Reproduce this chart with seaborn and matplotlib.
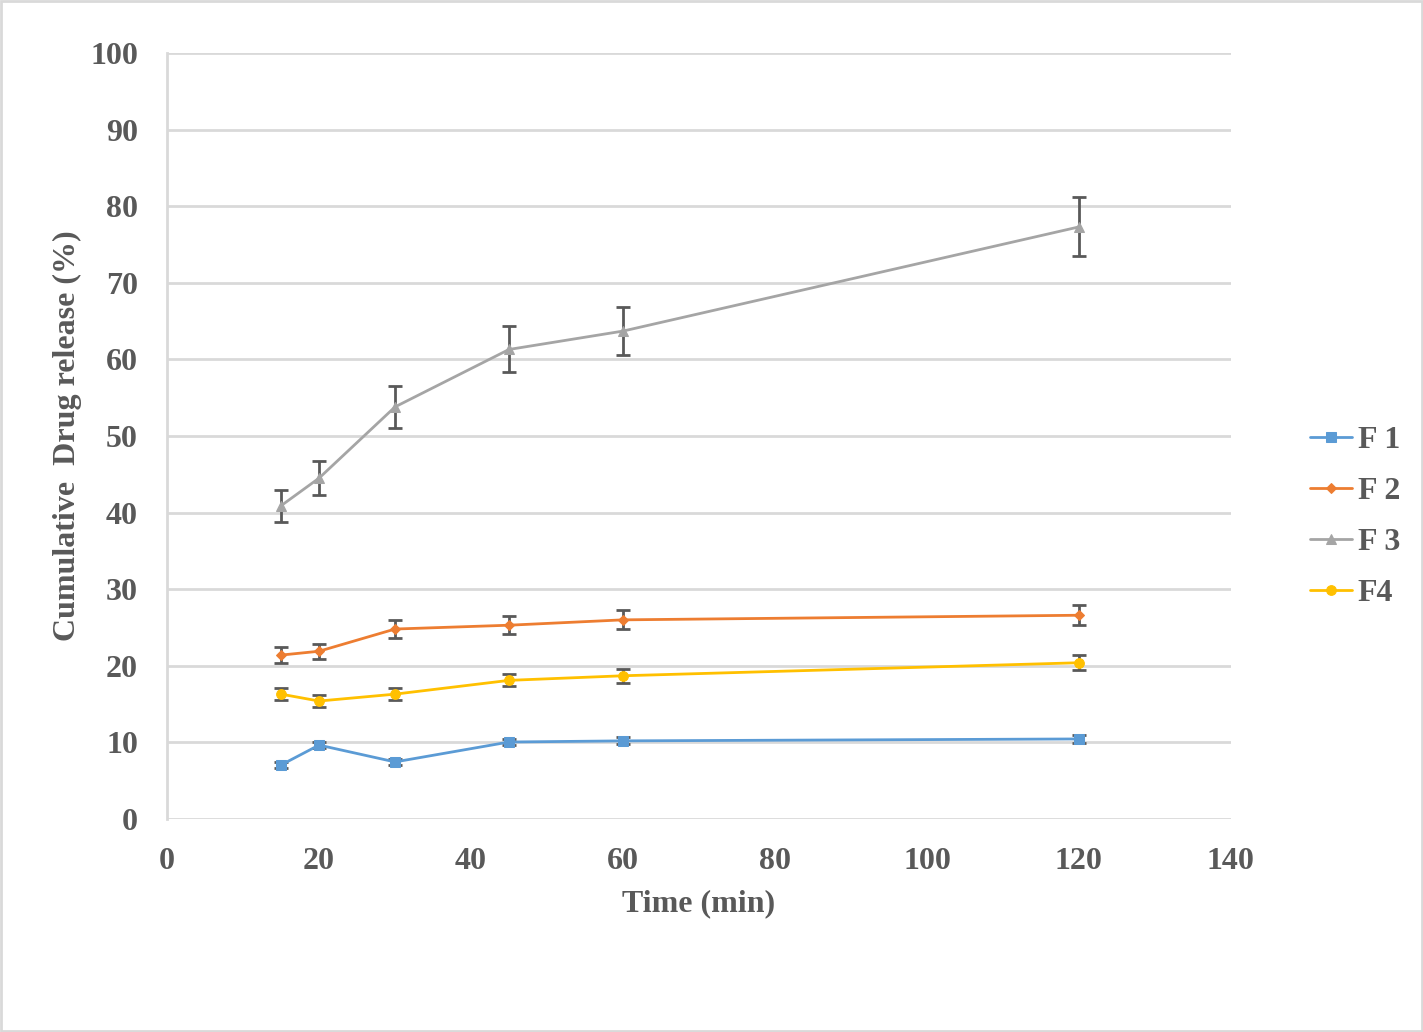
import matplotlib
matplotlib.use('Agg')
import matplotlib.pyplot as plt
import seaborn as sns
import pandas as pd
import numpy as np

# sampling times (min)
time_min = [15, 20, 30, 45, 60, 120]

# cumulative release (%) per formulation
f1 = [7.05, 9.65, 7.45, 10.05, 10.2, 10.45]
f2 = [21.4, 21.9, 24.8, 25.3, 26.0, 26.6]
f3 = [40.9, 44.5, 53.8, 61.3, 63.7, 77.3]
f4 = [16.3, 15.4, 16.3, 18.1, 18.7, 20.4]

# standard deviations
f1_sd = [0.4, 0.4, 0.35, 0.45, 0.45, 0.5]
f2_sd = [1.0, 1.0, 1.2, 1.2, 1.25, 1.3]
f3_sd = [2.1, 2.2, 2.7, 3.0, 3.1, 3.85]
f4_sd = [0.8, 0.8, 0.8, 0.8, 0.9, 1.0]

series_names = ['F 1', 'F 2', 'F 3', 'F4']
colors = ['#5B9BD5', '#ED7D31', '#A5A5A5', '#FFC000']
markers = ['s', 'D', '^', 'o']
marker_sizes = [7, 5, 7, 7]

values = [f1, f2, f3, f4]
errors = [f1_sd, f2_sd, f3_sd, f4_sd]

rows = []
for name, vals, sds in zip(series_names, values, errors):
    for t, v, s in zip(time_min, vals, sds):
        rows.append({'Time': t, 'Release': v, 'SD': s, 'Formulation': name})
df = pd.DataFrame(rows)

sns.set_theme(style='white')
plt.rcParams['font.family'] = ['Liberation Serif', 'DejaVu Serif']
plt.rcParams['font.weight'] = 'bold'
text_col = '#595959'

fig = plt.figure(figsize=(14.23, 10.32), dpi=100)
ax = fig.add_axes([0.1174, 0.2064, 0.7476, 0.7422])

# error bars first so the lines sit on top
for name in series_names:
    sub = df[df['Formulation'] == name]
    ax.errorbar(sub['Time'], sub['Release'], yerr=sub['SD'], fmt='none',
                ecolor='#595959', elinewidth=2, capsize=5, capthick=2, zorder=2)

for name, c, m, ms in zip(series_names, colors, markers, marker_sizes):
    sub = df[df['Formulation'] == name]
    sns.lineplot(data=sub, x='Time', y='Release', ax=ax, color=c, marker=m,
                 markersize=ms, markeredgecolor=c, linewidth=2, label=name,
                 zorder=3)

ax.set_xlim(0, 140)
ax.set_ylim(0, 100)
ax.set_xticks(np.arange(0, 141, 20))
ax.set_yticks(np.arange(0, 101, 10))
ax.yaxis.grid(True, color='#D9D9D9', linewidth=2)
ax.xaxis.grid(False)
ax.set_axisbelow(True)

for side in ['top', 'right', 'bottom']:
    ax.spines[side].set_visible(False)
ax.spines['left'].set_color('#D9D9D9')
ax.spines['left'].set_linewidth(2)

ax.tick_params(axis='y', length=0, labelsize=23, labelcolor=text_col, pad=21)
ax.tick_params(axis='x', length=0, labelsize=23, labelcolor=text_col, pad=20)
for lab in ax.get_xticklabels() + ax.get_yticklabels():
    lab.set_fontweight('bold')

ax.set_xlabel('Time (min)', fontsize=23, fontweight='bold', color=text_col, labelpad=10)
ax.set_ylabel('Cumulative  Drug release (%)', fontsize=23, fontweight='bold',
              color=text_col, labelpad=6)

leg = fig.legend(*ax.get_legend_handles_labels(), loc='center left',
                 bbox_to_anchor=(1310 / 1423, 1 - 517 / 1032), frameon=False,
                 borderpad=0, borderaxespad=0, handlelength=1.3,
                 handletextpad=0.2, labelspacing=0.68,
                 prop={'weight': 'bold', 'size': 23})
ax.get_legend().remove()
for t in leg.get_texts():
    t.set_color(text_col)

# light grey outer frame like the source
fig.patches.append(plt.Rectangle((0.001, 0.001), 0.998, 0.998, transform=fig.transFigure,
                                 fill=False, edgecolor='#D9D9D9', linewidth=2))

fig.savefig('out.png', dpi=100)
